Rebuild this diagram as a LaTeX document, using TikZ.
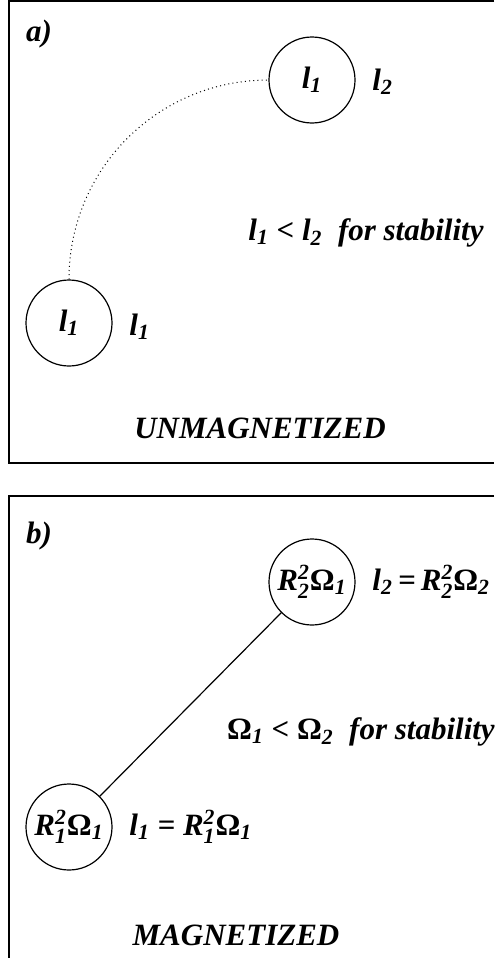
\documentclass[tikz,border=0pt]{standalone}
\usepackage{amsmath}
\usepackage{fontspec}
\setmainfont{Liberation Serif}
\usepackage{tikz}
\usetikzlibrary{calc}
\newcommand{\lsub}[1]{\textit{l}$_{\text{#1}}$}
\newcommand{\Rsq}[1]{\textit{R}$^{\text{2}}_{\text{#1}}$}
\newcommand{\Om}[1]{{\upshape Ω}$_{\text{#1}}$}
\tikzset{
  panelframe/.style={line width=0.6pt, draw=black},
  blob/.style={circle, draw=black, line width=0.6pt, minimum size=43pt, inner sep=0pt, font=\fontsize{15.5}{18}\selectfont\bfseries\itshape},
  eqlabel/.style={font=\fontsize{15.5}{18}\selectfont\bfseries\itshape, inner sep=1pt},
  paneltag/.style={font=\fontsize{15.5}{18}\selectfont\bfseries\itshape, inner sep=1pt},
  orbitlink/.style={line width=0.5pt, dash pattern=on 0.5pt off 1.6pt},
  fieldlink/.style={line width=0.6pt},
}
\begin{document}
\begin{tikzpicture}[x=0.5pt,y=-0.5pt]
  \useasboundingbox (0,0) rectangle (494,958);
  % --- panel a ---
  \draw[panelframe] (494,1) -| (9,463) -- (494,463);
  \node[paneltag] (tagA) at (39,34) {a)};
  \node[blob] (topA) at (312,80) {\lsub{1}};
  \node[blob] (lowA) at (69,323) {\lsub{1}};
  \node[eqlabel, anchor=west] (lblTopA) at (370,82) {\lsub{2}};
  \node[eqlabel, anchor=west] (lblLowA) at (127,327) {\lsub{1}};
  \node[eqlabel] (condA) at (366,233) {\lsub{1} < \lsub{2}\ \ for stability};
  \node[eqlabel] (titleA) at (260,428) {UNMAGNETIZED};
  \draw[orbitlink] (lowA.north) to[out=90,in=180] (topA.west);
  % --- panel b ---
  \draw[panelframe] (494,496) -| (9,958);
  \node[paneltag] (tagB) at (39,536) {b)};
  \node[blob] (topB) at (312,582) {\Rsq{2}\Om{1}};
  \node[blob] (lowB) at (69,827) {\Rsq{1}\Om{1}};
  \node[eqlabel, anchor=west] (lblTopB) at (370,582) {\lsub{2}\,=\,\Rsq{2}\Om{2}};
  \node[eqlabel, anchor=west] (lblLowB) at (127,827) {\lsub{1} = \Rsq{1}\Om{1}};
  \node[eqlabel] (condB) at (361,732) {\Om{1} < \Om{2}\ \ for stability};
  \node[eqlabel] (titleB) at (236,935) {MAGNETIZED};
  \draw[fieldlink] (lowB.45) -- (topB.225);
\end{tikzpicture}
\end{document}
